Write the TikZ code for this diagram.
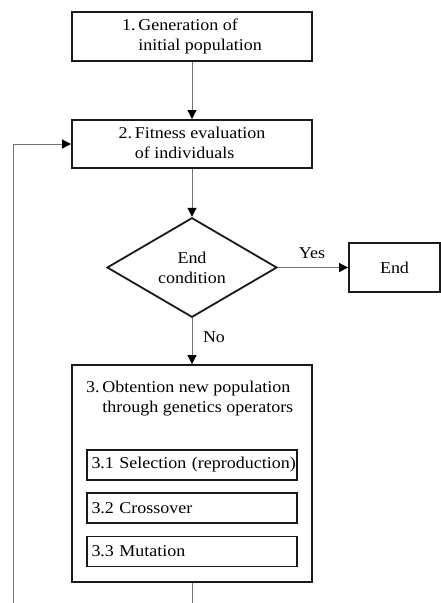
\documentclass[tikz,border=0pt]{standalone}
\usepackage{fontspec}
\setmainfont{Liberation Serif}[FakeStretch=1.09]
\usetikzlibrary{shapes.geometric,arrows.meta}
\begin{document}
\begin{tikzpicture}[x=1pt,y=-1pt,
  box/.style={draw=black!90, line width=1.8pt, minimum width=240pt, inner sep=0pt, font=\fontsize{16.5}{20}\selectfont},
  subbox/.style={draw=black!90, line width=1.8pt, minimum width=210pt, minimum height=30pt, inner sep=0pt, text width=201pt, align=left, font=\fontsize{16.5}{20}\selectfont},
  conn/.style={draw=black!55, line width=0.8pt},
  tip/.style={-{Triangle[length=9pt,width=9pt,fill=black,color=black]}},
  lbl/.style={font=\fontsize{16.5}{20}\selectfont, inner sep=0pt}
]
\useasboundingbox (0,0) rectangle (441,603);
\node[box, minimum height=49pt] (b1) at (192,36.5) {\begin{tabular}{@{}l@{\,}l@{}}1. & Generation of\\ & initial population\end{tabular}};
\node[box, minimum height=48pt] (b2) at (192,144) {\begin{tabular}{@{}l@{\,}l@{}}2. & Fitness evaluation\\ & of individuals\end{tabular}};
\node[diamond, draw=black!90, line width=1.8pt, minimum width=170pt, minimum height=77pt, inner sep=0pt, align=center, font=\fontsize{16.5}{20}\selectfont] (d) at (192,267.5) {End\\condition};
\node[box, minimum width=91pt, minimum height=49pt] (e) at (394.5,267.5) {End};
\node[box, minimum height=217pt] (b3) at (192,473.5) {};
\node[lbl, anchor=north west] (t3) at (86,378) {\begin{tabular}{@{}l@{\,}l@{}}3. & Obtention new population\\ & through genetics operators\end{tabular}};
\node[subbox] (s1) at (192,465) {\mbox{3.1 Selection (reproduction)}};
\node[subbox] (s2) at (192,508) {\mbox{3.2 Crossover}};
\node[subbox] (s3) at (192,551.5) {\mbox{3.3 Mutation}};
\coordinate (bot) at (192,603);
\coordinate (lbot) at (13,603);
\draw[conn, tip] (b1.south) -- (b2.north);
\draw[conn, tip] (b2.south) -- (d.north);
\draw[conn, tip] (d.east) -- (e.west);
\draw[conn, tip] (d.south) -- (b3.north);
\draw[conn] (b3.south) -- (bot);
\draw[conn, tip] (lbot) |- (b2.west);
\node[lbl] (yes) at (312,253) {Yes};
\node[lbl] (no) at (214,337) {No};
\end{tikzpicture}
\end{document}
